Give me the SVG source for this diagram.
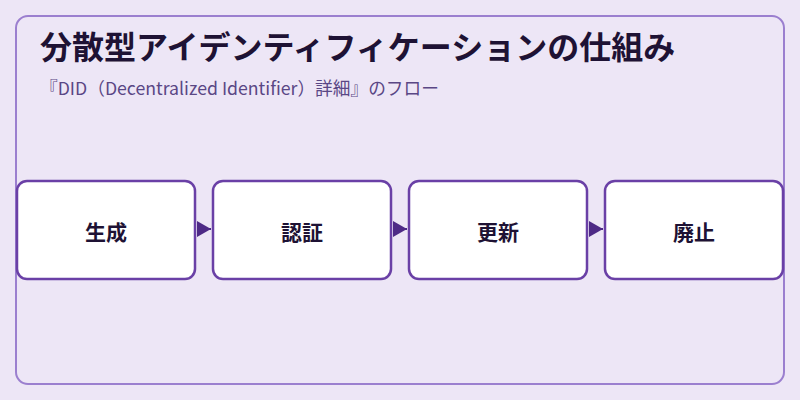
<svg xmlns="http://www.w3.org/2000/svg" width="800" height="400" viewBox="0 0 800 400">
<defs>
<style>
.title{font-family:"Noto Sans CJK JP","Noto Sans",sans-serif;font-size:32px;font-weight:700;fill:#1e1234}
.sub{font-family:"Noto Sans CJK JP","Noto Sans",sans-serif;font-size:17.7px;fill:#5a4785}
.box{fill:#ffffff;stroke:#6a40a6;stroke-width:2.5}
.lbl{font-family:"Noto Sans CJK JP","Noto Sans",sans-serif;font-size:21px;font-weight:700;fill:#1e1234;text-anchor:middle}
.conn{stroke:#4e2a86;stroke-width:2;fill:none}
</style>
<marker id="ah" markerWidth="14" markerHeight="16" refX="14" refY="8" orient="auto" markerUnits="userSpaceOnUse">
<path d="M0,0 L14,8 L0,16 Z" fill="#4e2a86"/>
</marker>
</defs>
<rect x="0" y="0" width="800" height="400" fill="#ede6f6"/>
<rect x="16" y="16" width="768" height="368" rx="12" ry="12" fill="none" stroke="#9b7fcf" stroke-width="2"/>
<text class="title" x="40" y="59">分散型アイデンティフィケーションの仕組み</text>
<text class="sub" x="40" y="95">『DID（Decentralized Identifier）詳細』のフロー</text>
<g id="connectors">
<path class="conn" d="M197,229 L211,229" marker-end="url(#ah)"/>
<path class="conn" d="M393,229 L407,229" marker-end="url(#ah)"/>
<path class="conn" d="M589,229 L603,229" marker-end="url(#ah)"/>
</g>
<g id="node1">
<rect class="box" x="17" y="181" width="178" height="98" rx="10" ry="10"/>
<text class="lbl" x="106" y="240">生成</text>
</g>
<g id="node2">
<rect class="box" x="213" y="181" width="178" height="98" rx="10" ry="10"/>
<text class="lbl" x="302" y="240">認証</text>
</g>
<g id="node3">
<rect class="box" x="409" y="181" width="178" height="98" rx="10" ry="10"/>
<text class="lbl" x="498" y="240">更新</text>
</g>
<g id="node4">
<rect class="box" x="605" y="181" width="178" height="98" rx="10" ry="10"/>
<text class="lbl" x="694" y="240">廃止</text>
</g>
</svg>
